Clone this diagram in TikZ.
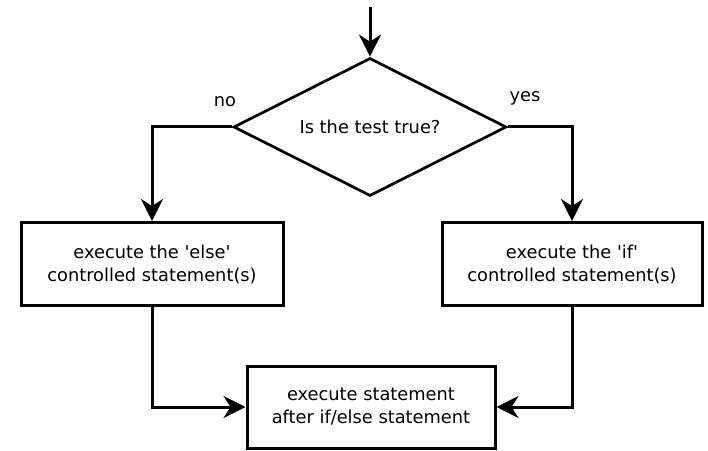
\documentclass[tikz,border=0pt]{standalone}
\usepackage{fontspec}
\setmainfont{DejaVu Sans}
\usetikzlibrary{shapes.geometric,arrows.meta}
\begin{document}
\begin{tikzpicture}[x=1pt,y=1pt,
  every node/.style={font=\fontsize{17.8}{23}\selectfont},
  boxnode/.style={draw,line width=3pt,rectangle,align=center,inner sep=0pt},
  decision/.style={draw,line width=2.7pt,diamond,aspect=2,inner sep=0pt,minimum width=273pt,minimum height=138pt},
  flow/.style={line width=3pt,-{Stealth[length=22pt,width=22pt,inset=7pt]}},
  lbl/.style={inner sep=0pt}]
\useasboundingbox (0,0) rectangle (708,450);
\coordinate (start) at (370,443);
\node[decision] (test) at (370,323) {Is the test true?};
\node[boxnode,minimum width=262pt,minimum height=83pt] (else) at (152,186) {execute the \textquotesingle else\textquotesingle\\controlled statement(s)};
\node[boxnode,minimum width=260pt,minimum height=83pt] (if) at (572,186) {execute the \textquotesingle if\textquotesingle\\controlled statement(s)};
\node[boxnode,minimum width=248pt,minimum height=82pt] (after) at (371,43) {execute statement\\after if/else statement};
\node[lbl] (no) at (225,348) {no};
\node[lbl] (yes) at (525,352) {yes};
\draw[flow] (start) -- (test.north);
\draw[flow] (test.west) -| (else.north);
\draw[flow] (test.east) -| (if.north);
\draw[flow] (else.south) |- (after.west);
\draw[flow] (if.south) |- (after.east);
\end{tikzpicture}
\end{document}
